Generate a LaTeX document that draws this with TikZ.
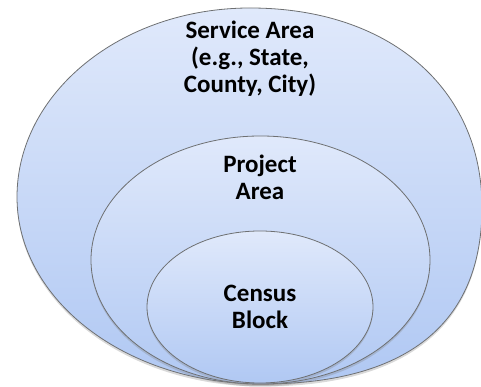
\documentclass[tikz,border=0pt]{standalone}
\usepackage{fontspec}
\setmainfont{Carlito}
\usepackage{tikz}
\usetikzlibrary{shadows}

\definecolor{areatop}{HTML}{E0E9FB}
\definecolor{areabottom}{HTML}{B0C8F3}
\definecolor{arealine}{HTML}{6E7072}

\begin{document}
\begin{tikzpicture}[x=1pt,y=1pt,
  region/.style={draw=arealine,line width=0.8pt,top color=areatop,bottom color=areabottom,
    drop shadow={shadow xshift=0pt,shadow yshift=-2.5pt,opacity=0.3}},
  areatext/.style={font=\bfseries\fontsize{25}{27}\selectfont,align=center,inner sep=0pt}]
\useasboundingbox (0,0) rectangle (481,387);
% the service area, wider on its lower right
\coordinate (stop) at (250,379);
\coordinate (sleft) at (17,190);
\coordinate (sbottom) at (262,3);
\coordinate (sright) at (482,180);
\draw[region] (stop) .. controls (121,379) and (17,294) .. (sleft)
  .. controls (17,87) and (126,3) .. (sbottom)
  .. controls (385,3) and (482,47) .. (sright)
  .. controls (482,299) and (389,379) .. cycle;
% the project area
\coordinate (project) at (260.5,127);
\draw[region] (project) ellipse [x radius=169.5,y radius=124];
% the census block
\coordinate (census) at (260,80);
\draw[region] (census) ellipse [x radius=113,y radius=76];
% the labels
\node[areatext] (servicelabel) at (250,328) {Service Area\\(e.g., State,\\County, City)};
\node[areatext] (projectlabel) at (260,210) {Project\\Area};
\node[areatext] (censuslabel) at (260,80) {Census\\Block};
\end{tikzpicture}
\end{document}
